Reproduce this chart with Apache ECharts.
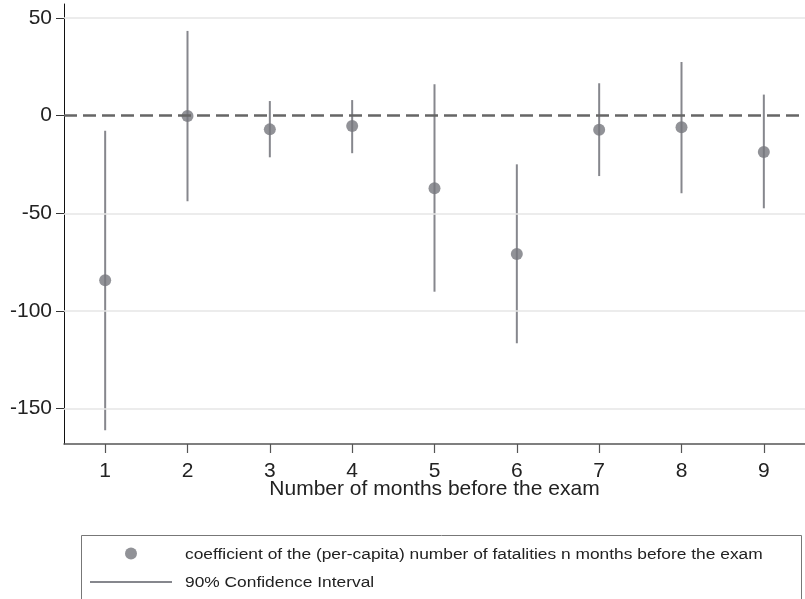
<!DOCTYPE html>
<html>
<head>
<meta charset="utf-8">
<script src="https://cdn.jsdelivr.net/npm/echarts@6/dist/echarts.min.js"></script>
<style>html,body{margin:0;padding:0;background:#fff;}#c{width:805px;height:599px;}</style>
</head>
<body>
<div id="c"></div>
<script>
const months = [1, 2, 3, 4, 5, 6, 7, 8, 9];
const coef   = [-84.2, -0.2, -7.0, -5.3, -37.2, -70.8, -7.2, -5.9, -18.6];
const ciLow  = [-161.0, -43.8, -21.3, -19.2, -90.1, -116.5, -30.9, -39.7, -47.4];
const ciHigh = [-7.7, 43.4, 7.5, 8.0, 16.1, -24.9, 16.6, 27.5, 10.8];
const yTicks = [-150, -100, -50, 0, 50];
const gridLines = [-150, -100, -50, 50];
const zeroLine = 0;
const xName = 'Number of months before the exam';
const nameCoef = 'coefficient of the (per-capita) number of fatalities n months before the exam';
const nameCI = '90% Confidence Interval';

const chart = echarts.init(document.getElementById('c'), null, {renderer: 'canvas'});
const axisFont = {fontFamily: "'Liberation Sans', Arial, sans-serif", fontSize: 21, color: '#222'};
const legendTextStyle = {fontFamily: "'Liberation Sans', Arial, sans-serif", fontSize: 15.5, fill: '#222',
                         textVerticalAlign: 'middle', verticalAlign: 'middle'};

chart.setOption({
  animation: false,
  backgroundColor: '#fff',
  grid: {left: 64, top: 4, width: 751, height: 440, containLabel: false},
  xAxis: {
    type: 'value', min: 0.5, max: 9.5,
    name: xName, nameLocation: 'middle', nameGap: 35, nameMoveOverlap: false,
    nameTextStyle: axisFont,
    axisLine: {show: true, onZero: false, lineStyle: {color: '#555', width: 1.5}},
    axisTick: {show: true, length: 9, customValues: months, lineStyle: {color: '#555', width: 1.2}},
    axisLabel: Object.assign({margin: 17, customValues: months}, axisFont),
    splitLine: {show: false}
  },
  yAxis: {
    type: 'value', min: -168.07, max: 57.18,
    axisLine: {show: true, onZero: false, lineStyle: {color: '#111', width: 1}},
    axisTick: {show: true, length: 8, customValues: yTicks, lineStyle: {color: '#333', width: 1}},
    axisLabel: Object.assign({margin: 12, customValues: yTicks}, axisFont),
    splitLine: {show: false}
  },
  legend: [
    {
      left: 125, top: 547.5, padding: 0, itemWidth: 12, itemHeight: 12,
      data: [{name: nameCoef, icon: 'circle'}],
      formatter: () => '', selectedMode: false
    },
    {
      left: 90, top: 581, padding: 0, itemWidth: 82, itemHeight: 2,
      data: [{name: nameCI, icon: 'rect'}],
      formatter: () => '', selectedMode: false
    }
  ],
  graphic: [
    {
      type: 'rect', left: 79, top: 533, silent: true,
      shape: {width: 720, height: 100},
      style: {fill: 'none', stroke: '#777', lineWidth: 1}, z: 0
    },
    {
      type: 'text', x: 185, y: 554.5, scaleX: 1.12, silent: true,
      style: Object.assign({text: nameCoef}, legendTextStyle)
    },
    {
      type: 'text', x: 185, y: 582.5, scaleX: 1.12, silent: true,
      style: Object.assign({text: nameCI}, legendTextStyle)
    }
  ],
  series: [
    {
      name: 'gridlines', type: 'line', data: [], silent: true, z: 1,
      markLine: {
        silent: true, symbol: 'none', label: {show: false}, animation: false,
        lineStyle: {color: '#e6e6e6', width: 1.5, type: 'solid'},
        data: gridLines.map(v => ({yAxis: v}))
      }
    },
    {
      name: 'zero', type: 'line', data: [], silent: true, z: 2,
      markLine: {
        silent: true, symbol: 'none', label: {show: false}, animation: false,
        lineStyle: {color: '#666', width: 2.5, type: [13, 6]},
        data: [{yAxis: zeroLine}]
      }
    },
    {
      name: nameCI, type: 'custom', z: 3,
      itemStyle: {color: '#86878d'},
      encode: {x: 0, y: [1, 2]},
      data: months.map((m, i) => [m, ciLow[i], ciHigh[i]]),
      renderItem: function (params, api) {
        const p1 = api.coord([api.value(0), api.value(1)]);
        const p2 = api.coord([api.value(0), api.value(2)]);
        return {type: 'line', shape: {x1: p1[0], y1: p1[1], x2: p2[0], y2: p2[1]},
                style: {stroke: '#86878d', lineWidth: 2}};
      }
    },
    {
      name: nameCoef, type: 'scatter', z: 4,
      symbol: 'circle', symbolSize: 12,
      itemStyle: {color: '#76777d'},
      data: months.map((m, i) => [m, coef[i]])
    }
  ]
});
</script>
</body>
</html>
